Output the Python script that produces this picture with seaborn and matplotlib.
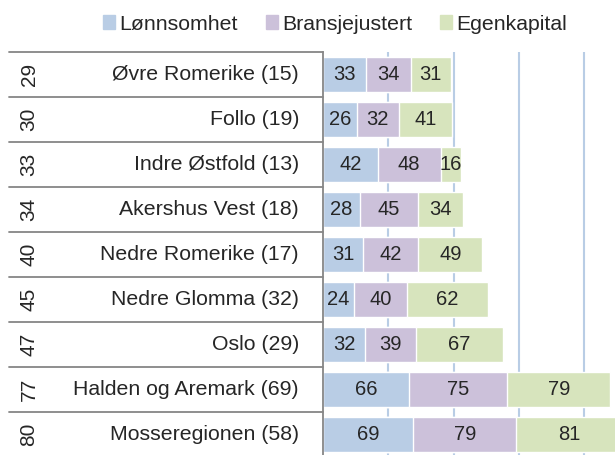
import pandas as pd
import matplotlib.pyplot as plt
import matplotlib.patches as mpatches
import seaborn as sns

# data
regions = ['Øvre Romerike (15)', 'Follo (19)', 'Indre Østfold (13)', 'Akershus Vest (18)',
           'Nedre Romerike (17)', 'Nedre Glomma (32)', 'Oslo (29)',
           'Halden og Aremark (69)', 'Mosseregionen (58)']
rank = [29, 30, 33, 34, 40, 45, 47, 77, 80]
lonnsomhet = [33, 26, 42, 28, 31, 24, 32, 66, 69]
bransje = [34, 32, 48, 45, 42, 40, 39, 75, 79]
egenkapital = [31, 41, 16, 34, 49, 62, 67, 79, 81]

series = ['Lønnsomhet', 'Bransjejustert', 'Egenkapital']
colors = ['#B9CDE5', '#CCC1DA', '#D7E4BD']

df = pd.DataFrame({'Region': regions, 'Lønnsomhet': lonnsomhet,
                   'Bransjejustert': bransje, 'Egenkapital': egenkapital})
df['c1'] = df['Lønnsomhet']
df['c2'] = df['c1'] + df['Bransjejustert']
df['c3'] = df['c2'] + df['Egenkapital']

sns.set_style('white')
plt.rcParams['font.family'] = ['Liberation Sans', 'DejaVu Sans']
fs = 15

fig = plt.figure(figsize=(6.15, 4.55), dpi=100)
ax = fig.add_axes([323 / 615, 0, 292 / 615, 403 / 455])

# stacked bars: draw cumulative totals, largest first
for col, c in zip(['c3', 'c2', 'c1'], colors[::-1]):
    sns.barplot(data=df, x=col, y='Region', color=c, orient='h', width=0.78,
                order=regions, ax=ax, zorder=2, saturation=1)

# segment labels
for i, row in df.iterrows():
    starts = [0, row['c1'], row['c2']]
    for s, name in zip(starts, series):
        v = row[name]
        ax.text(s + v / 2, i, str(v), ha='center', va='center', fontsize=fs - 0.5, zorder=3)

ax.set_xlim(0, 292 / 1.306)
ax.set_ylim(-0.5 + 403 / 45, -0.5)
for gx in [50, 100, 150, 200]:
    ax.axvline(gx, color='#B9CDE5', lw=1.5, zorder=1)
ax.set_xticks([])
ax.set_yticks([])
ax.set_xlabel('')
ax.set_ylabel('')
for s in ['top', 'right', 'bottom']:
    ax.spines[s].set_visible(False)
ax.spines['left'].set_color('#868686')
ax.spines['left'].set_linewidth(1.3)

# left-hand category table
x0 = 9 / 615
x1 = 323 / 615
for k in range(10):
    yb = 1 - (52 + 45 * k) / 455
    fig.add_artist(plt.Line2D([x0, x1], [yb, yb], color='#868686', lw=1.3))
for i in range(len(regions)):
    yc = 1 - (52 + 22.5 + 45 * i) / 455
    fig.text(29 / 615, yc, str(rank[i]), rotation=90, ha='center', va='center', fontsize=fs)
    fig.text(299 / 615, yc, regions[i], ha='right', va='center', fontsize=fs + 0.3)

handles = [mpatches.Patch(color=c, label=n) for c, n in zip(colors, series)]
fig.legend(handles=handles, loc='center', bbox_to_anchor=(335 / 615, 1 - 24 / 455),
           ncol=3, frameon=False, fontsize=fs + 0.3, handlelength=0.57, handleheight=0.57,
           handletextpad=0.2, columnspacing=1.3, borderpad=0)

plt.savefig('out.png', dpi=100)
